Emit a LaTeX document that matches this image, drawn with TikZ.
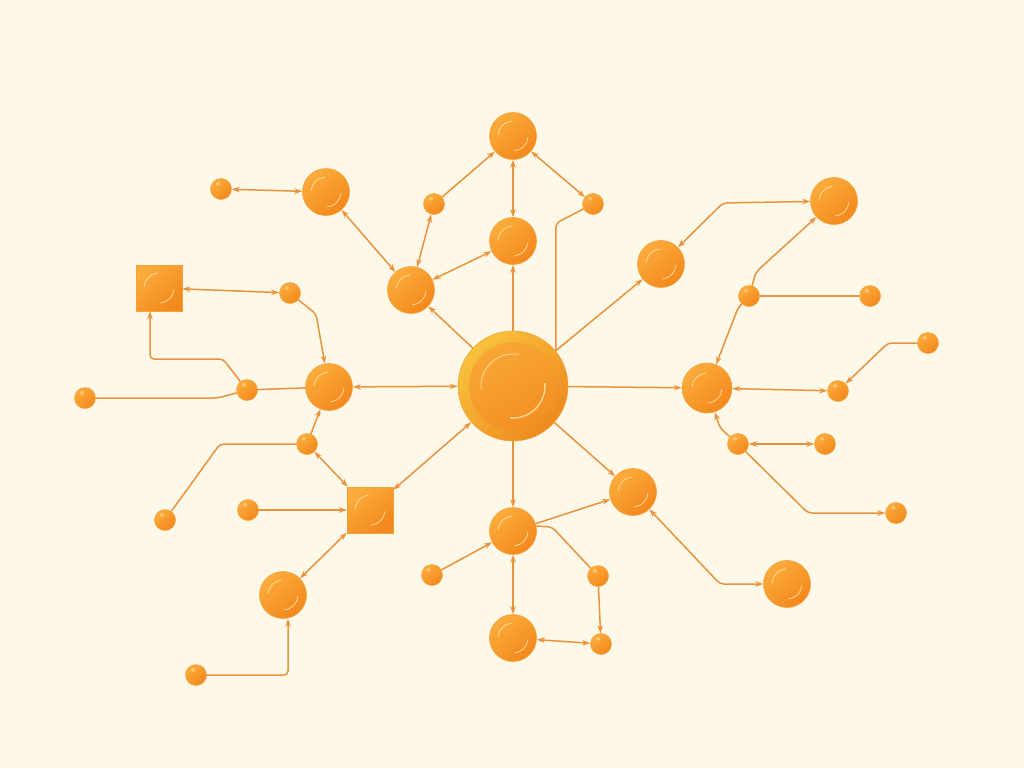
\documentclass[tikz,border=0pt]{standalone}
\usetikzlibrary{arrows.meta,calc}
\definecolor{bgc}{HTML}{FDF8E7}
\definecolor{linec}{HTML}{E9933D}
\definecolor{ballT}{HTML}{FBAC3C}
\definecolor{ballB}{HTML}{F3881C}
\definecolor{ballE}{HTML}{F5A23A}
\definecolor{hlc}{HTML}{FFE4A6}
\definecolor{hubT}{HTML}{F8C23C}
\definecolor{hubB}{HTML}{EE8A1E}
\definecolor{hubIT}{HTML}{FAAA3A}
\definecolor{hubIB}{HTML}{F28C20}
\tikzset{
  hl/.style={draw=hlc, line width=0.8pt, opacity=0.85},
  ballfill/.style={top color=ballT, bottom color=ballB, shading angle=40},
  big/.style={circle, minimum size=47pt, inner sep=0pt, draw=ballE, line width=0.6pt, ballfill,
    path picture={
      \draw[hl] ($(path picture bounding box.center)+(175:15pt)$) arc[start angle=175, end angle=95, radius=15pt];
      \draw[hl] ($(path picture bounding box.center)+(-85:15pt)$) arc[start angle=-85, end angle=-5, radius=15pt];
    }},
  small/.style={circle, minimum size=21pt, inner sep=0pt, draw=ballE, line width=0.5pt, ballfill,
    path picture={
      \fill[hlc, opacity=0.5] ($(path picture bounding box.center)+(120:6pt)$) circle[radius=2pt];
    }},
  sq/.style={rectangle, minimum size=46pt, inner sep=0pt, draw=ballE, line width=0.6pt, ballfill,
    path picture={
      \draw[hl] ($(path picture bounding box.center)+(175:15pt)$) arc[start angle=175, end angle=95, radius=15pt];
      \draw[hl] ($(path picture bounding box.center)+(-85:15pt)$) arc[start angle=-85, end angle=-5, radius=15pt];
    }},
  hub/.style={circle, minimum size=110pt, inner sep=0pt, draw=ballE, line width=0.6pt,
    top color=hubT, bottom color=hubB, shading angle=45,
    path picture={
      \shade[top color=hubIT, bottom color=hubIB, shading angle=30] (path picture bounding box.center) circle[radius=44pt];
      \draw[hl] ($(path picture bounding box.center)+(185:32pt)$) arc[start angle=185, end angle=80, radius=32pt];
      \draw[hl, line width=1.4pt] ($(path picture bounding box.center)+(-95:32pt)$) arc[start angle=-95, end angle=5, radius=32pt];
    }},
  edge/.style={draw=linec, line width=1.5pt, rounded corners=4pt},
  oneway/.style={-{Stealth[length=8pt,width=5.5pt]}},
  twoway/.style={{Stealth[length=8pt,width=5.5pt]}-{Stealth[length=8pt,width=5.5pt]}},
}
\begin{document}
\begin{tikzpicture}[x=1pt,y=-1pt]
\useasboundingbox (0,0) rectangle (1024,768);
\fill[bgc] (0,0) rectangle (1024,768);

% hub
\node[hub] (C) at (513,386) {};
% big balls
\node[big] (T) at (513,136) {};
\node[big] (TL) at (326,192) {};
\node[big] (M) at (513,241) {};
\node[big] (L2) at (411,290) {};
\node[big] (R1) at (661,264) {};
\node[big] (TR) at (834,201) {};
\node[big] (Lm) at (329,387) {};
\node[big, minimum size=50pt] (Rm) at (707,388) {};
\node[big] (BR1) at (633,492) {};
\node[big] (B1) at (513,531) {};
\node[big] (B2) at (513,638) {};
\node[big] (BR2) at (787,584) {};
\node[big] (BL) at (283,595) {};
% squares
\node[sq] (SqL) at (159,288) {};
\node[sq] (SqM) at (370,510) {};
% small balls
\node[small] (s1) at (221,189) {};
\node[small] (s2) at (434,204) {};
\node[small] (s3) at (593,204) {};
\node[small] (s4) at (290,293) {};
\node[small] (s5) at (247,390) {};
\node[small] (s6) at (85,398) {};
\node[small] (s7) at (307,444) {};
\node[small] (s8) at (165,520) {};
\node[small] (s9) at (248,510) {};
\node[small] (s10) at (196,675) {};
\node[small] (s11) at (432,575) {};
\node[small] (s12) at (598,576) {};
\node[small] (s13) at (601,644) {};
\node[small] (s14) at (749,296) {};
\node[small] (s15) at (870,296) {};
\node[small] (s16) at (928,343) {};
\node[small] (s17) at (838,391) {};
\node[small] (s18) at (738,444) {};
\node[small] (s19) at (825,444) {};
\node[small] (s20) at (896,513) {};

% connectors
\draw[edge,twoway] (s1) -- (TL);
\draw[edge,twoway] (TL) -- (L2);
\draw[edge,twoway] (L2) -- (s2);
\draw[edge,oneway] (s2) -- (T);
\draw[edge,twoway] (T) -- (M);
\draw[edge,twoway] (T) -- (s3);
\draw[edge] (C.39) -- ++(0,-128) -- (s3);
\draw[edge,twoway] (L2) -- (M);
\draw[edge,oneway] (C) -- (M);
\draw[edge,oneway] (C) -- (L2);
\draw[edge,oneway] (C) -- (R1);
\draw[edge,twoway] (R1) -- (723,203) -- (TR);
\draw[edge,oneway] (s14) -- (756,272) -- (TR);
\draw[edge] (s14) -- (s15);
\draw[edge,oneway] (s14) -- (738,308) -- (Rm);
\draw[edge,oneway] (C) -- (Rm);
\draw[edge,twoway] (Rm) -- (s17);
\draw[edge,oneway] (s16) -- (888,343) -- (s17);
\draw[edge,oneway] (s18) -- (720,428) -- (Rm);
\draw[edge,twoway] (s19) -- (s18);
\draw[edge,oneway] (s18) -- (808,513) -- (s20);
\draw[edge,oneway] (C) -- (BR1);
\draw[edge,twoway] (BR1) -- (720,584) -- (BR2);
\draw[edge,oneway] (C) -- (B1);
\draw[edge,oneway] (B1) -- (BR1);
\draw[edge,oneway] (s11) -- (B1);
\draw[edge,twoway] (B1) -- (B2);
\draw[edge] (B1.12) -- (552,527) -- (s12);
\draw[edge,oneway] (s12) -- (s13);
\draw[edge,twoway] (B2) -- (s13);
\draw[edge,twoway] (Lm) -- (C);
\draw[edge,oneway] (s4) -- (316,314) -- (Lm);
\draw[edge,twoway] (SqL) -- (s4);
\draw[edge,oneway] (s5) -- (223,359) -- (150,359) -- ($(SqL.south)+(-9,0)$);
\draw[edge] (s6) -- (218,398) -- (s5);
\draw[edge] (s5) -- (Lm);
\draw[edge,oneway] (s7) -- (Lm);
\draw[edge] (s8) -- (220,444) -- (s7);
\draw[edge,twoway] (s7) -- (SqM);
\draw[edge,oneway] (s9) -- (SqM);
\draw[edge,twoway] (SqM) -- (C);
\draw[edge,twoway] (SqM) -- (BL);
\draw[edge,oneway] (s10) -- (288,675) -- ($(BL.south)+(5,0)$);
\end{tikzpicture}
\end{document}
